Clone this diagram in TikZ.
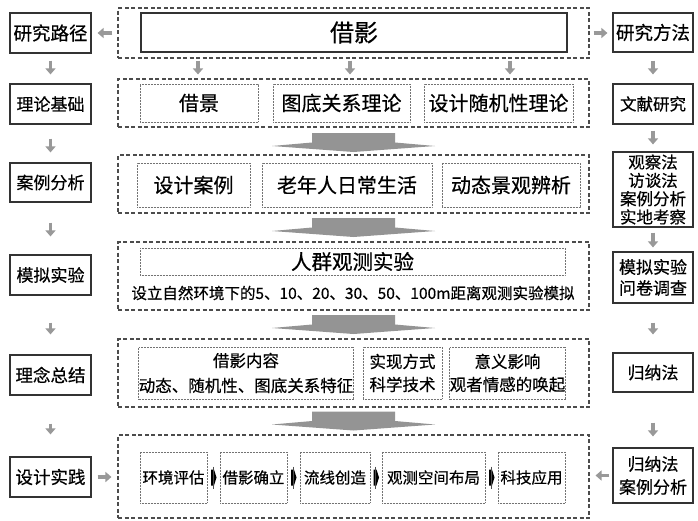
\documentclass[tikz,border=0pt]{standalone}
\usepackage{fontspec}
\setmainfont{Noto Sans CJK SC}[FakeBold=0.5]
\usetikzlibrary{arrows.meta,calc}
\newcommand\fsz[2]{\fontsize{#1pt}{#2pt}\selectfont}
\begin{document}
\begin{tikzpicture}[x=1pt,y=-1pt,
  sidebox/.style={draw=black!80,line width=1.2pt,inner sep=0pt,align=center,minimum width=80pt},
  cont/.style={draw=black!70,line width=1.1pt,dash pattern=on 4pt off 2.5pt,inner sep=0pt,minimum width=471pt},
  inbox/.style={draw=black!55,line width=0.8pt,dash pattern=on 0.6pt off 0.9pt,inner sep=0pt,align=center},
  garrow/.style={draw=black!40,line width=3.8pt,-{Triangle[width=10pt,length=6pt]}},
  chevron/.pic={\fill[black!42] (-41.5,-9.5) -- (41.5,-9.5) -- (41.5,0) -- (81.5,3.5) -- (0,9.5) -- (-81.5,3.5) -- (-41.5,0) -- cycle;},
  barrow/.pic={\fill[black] (-2.5,-8) -- (0.5,-8) -- (3,0) -- (0.5,8) -- (-2.5,8) -- cycle;
               \draw[black!70,line width=0.4pt] (-0.5,-11) -- (-0.5,11);}
]
\useasboundingbox (0,0) rectangle (698,520);
\fill[white] (0,0) rectangle (698,520);

% left column
\node[sidebox,minimum width=81pt,minimum height=40pt,font=\fsz{18.5}{20}] (L1) at (50.5,33) {研究路径};
\node[sidebox,minimum width=81pt,minimum height=40pt,font=\fsz{17}{20}] (L2) at (50.5,104) {理论基础};
\node[sidebox,minimum width=81pt,minimum height=39pt,font=\fsz{17}{20}] (L3) at (50.5,182.5) {案例分析};
\node[sidebox,minimum width=81pt,minimum height=40pt,font=\fsz{17}{20}] (L4) at (50.5,275) {模拟实验};
\node[sidebox,minimum width=81pt,minimum height=40pt,font=\fsz{17.5}{20}] (L5) at (50.5,375) {理念总结};
\node[sidebox,minimum width=81pt,minimum height=40pt,font=\fsz{17.5}{20}] (L6) at (50.5,477) {设计实践};

% right column
\node[sidebox,minimum height=39pt,font=\fsz{18.5}{20}] (R1) at (653,32.5) {研究方法};
\node[sidebox,minimum height=40pt,font=\fsz{16.5}{20}] (R2) at (653,104) {文献研究};
\node[sidebox,minimum height=75pt,font=\fsz{16.5}{18.3}] (R3) at (653,189.5) {观察法\\访谈法\\案例分析\\实地考察};
\node[sidebox,minimum height=51pt,font=\fsz{17}{21}] (R4) at (653,277.5) {模拟实验\\问卷调查};
\node[sidebox,minimum height=39pt,font=\fsz{17}{20}] (R5) at (653,372.5) {归纳法};
\node[sidebox,minimum height=55pt,font=\fsz{17}{23}] (R6) at (653,475.5) {归纳法\\案例分析};

% containers
\node[cont,minimum height=50pt] (C1) at (353.5,33) {};
\node[cont,minimum height=48pt] (C2) at (353.5,103) {};
\node[cont,minimum height=58pt] (C3) at (353.5,184) {};
\node[cont,minimum height=68pt] (C4) at (353.5,276) {};
\node[cont,minimum height=68pt] (C5) at (353.5,373) {};
\node[cont,minimum height=83pt] (C6) at (353.5,476.5) {};

% row 1
\node[draw=black!80,line width=1.2pt,inner sep=0pt,minimum width=426pt,minimum height=39pt,font=\fsz{24}{26}] (T) at (354,32.5) {借影};

% row 2
\node[inbox,minimum width=118pt,minimum height=38pt,font=\fsz{20}{22}] (A1) at (199,103) {借景};
\node[inbox,minimum width=137pt,minimum height=38pt,font=\fsz{20}{22}] (A2) at (341.5,103) {图底关系理论};
\node[inbox,minimum width=149pt,minimum height=38pt,font=\fsz{20}{22}] (A3) at (498.5,103) {设计随机性理论};

% row 3
\node[inbox,minimum width=113pt,minimum height=44pt,font=\fsz{20}{22}] (B1) at (193.5,185) {设计案例};
\node[inbox,minimum width=170pt,minimum height=44pt,font=\fsz{20}{22}] (B2) at (347,185) {老年人日常生活};
\node[inbox,minimum width=138pt,minimum height=44pt,font=\fsz{20}{22}] (B3) at (511,185) {动态景观辨析};

% row 4
\node[inbox,minimum width=425pt,minimum height=27pt,font=\fsz{20.5}{22}] (D1) at (352.5,261.5) {人群观测实验};
\node[inner sep=0pt,font=\fsz{15.5}{17}] (D2) at (353,293) {设立自然环境下的5、10、20、30、50、100m距离观测实验模拟};

% row 5
\node[inbox,minimum width=212pt,minimum height=52pt,font=\fsz{16.5}{25}] (E1) at (246,373) {借影内容\\动态、随机性、图底关系特征};
\node[inbox,minimum width=79pt,minimum height=52pt,font=\fsz{16.5}{23}] (E2) at (402.5,373) {实现方式\\科学技术};
\node[inbox,minimum width=115pt,minimum height=52pt,font=\fsz{16.5}{23}] (E3) at (507.5,373) {意义影响\\观者情感的唤起};

% row 6
\node[inbox,minimum width=67pt,minimum height=51pt,font=\fsz{15.5}{17}] (F1) at (173.5,477.5) {环境评估};
\node[inbox,minimum width=67pt,minimum height=51pt,font=\fsz{15.5}{17}] (F2) at (253.5,477.5) {借影确立};
\node[inbox,minimum width=70pt,minimum height=51pt,font=\fsz{15.5}{17}] (F3) at (335,477.5) {流线创造};
\node[inbox,minimum width=103pt,minimum height=51pt,font=\fsz{15.5}{17}] (F4) at (433.5,477.5) {观测空间布局};
\node[inbox,minimum width=67pt,minimum height=51pt,font=\fsz{15.5}{17}] (F5) at (531.5,477.5) {科技应用};

\pic at ($(F1.east)!0.5!(F2.west)$) {barrow};
\pic at ($(F2.east)!0.5!(F3.west)$) {barrow};
\pic at ($(F3.east)!0.5!(F4.west)$) {barrow};
\pic at ($(F4.east)!0.5!(F5.west)$) {barrow};

% big chevrons
\pic at ($(C2.south)!0.5!(C3.north)+(0,1.5)$) {chevron};
\pic at ($(C3.south)!0.5!(C4.north)$) {chevron};
\pic at ($(C4.south)!0.5!(C5.north)$) {chevron};
\pic at ($(C5.south)!0.5!(C6.north)$) {chevron};

% row1 -> row2 arrows
\coordinate (x1) at (198,0);
\coordinate (x2) at (350,0);
\coordinate (x3) at (510,0);
\draw[garrow,shorten <=2pt,shorten >=4pt] (C1.south -| x1) -- (C2.north -| x1);
\draw[garrow,shorten <=2pt,shorten >=4pt] (C1.south -| x2) -- (C2.north -| x2);
\draw[garrow,shorten <=2pt,shorten >=4pt] (C1.south -| x3) -- (C2.north -| x3);

% side horizontal arrows
\draw[garrow,shorten <=5pt,shorten >=6pt] (C1.west) -- (L1.east);
\draw[garrow,shorten <=4pt,shorten >=5pt] (C1.east) -- (C1.east -| R1.west);
\draw[garrow,shorten <=6pt,shorten >=6pt] (L6.east) -- (L6.east -| C6.west);
\draw[garrow,shorten <=3pt,shorten >=6pt] (R6.west) -- (R6.west -| C6.east);

% left column down arrows
\draw[garrow,shorten <=7pt,shorten >=9pt] (L1.south) -- (L2.north);
\draw[garrow,shorten <=14pt,shorten >=10pt] (L2.south) -- (L3.north);
\draw[garrow,shorten <=20pt,shorten >=18pt] (L3.south) -- (L4.north);
\draw[garrow,shorten <=27pt,shorten >=20pt] (L4.south) -- (L5.north);
\draw[garrow,shorten <=28pt,shorten >=22pt] (L5.south) -- (L6.north);

% right column down arrows
\draw[garrow,shorten <=8pt,shorten >=9pt] (R1.south) -- (R2.north);
\draw[garrow,shorten <=6pt,shorten >=7pt] (R2.south) -- (R3.north);
\draw[garrow,shorten <=5pt,shorten >=4pt] (R3.south) -- (R4.north);
\draw[garrow,shorten <=19pt,shorten >=18pt] (R4.south) -- (R5.north);
\draw[garrow,shorten <=30pt,shorten >=11pt] (R5.south) -- (R6.north);
\end{tikzpicture}
\end{document}
